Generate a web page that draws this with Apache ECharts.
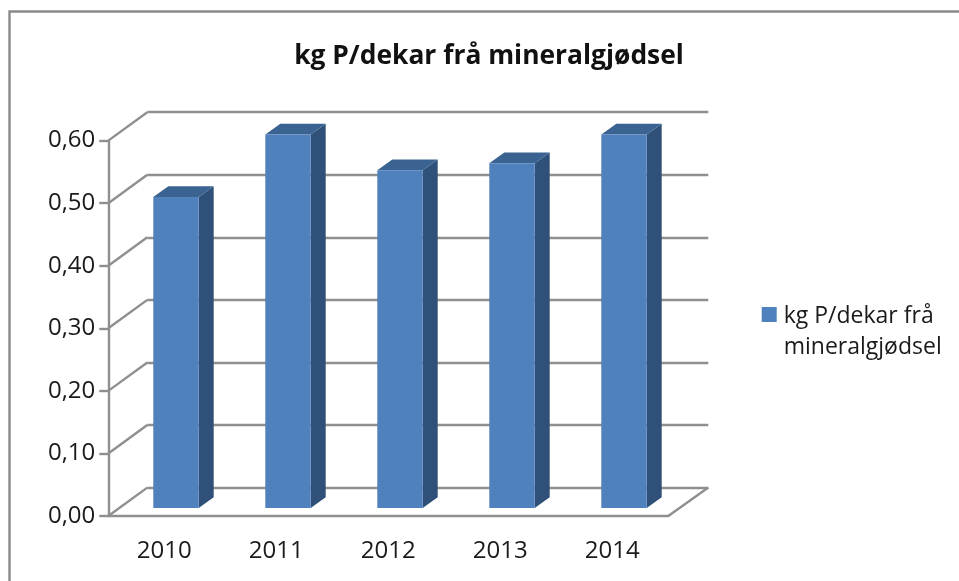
<!DOCTYPE html>
<html>
<head>
<meta charset="utf-8">
<script src="https://cdn.jsdelivr.net/npm/echarts@6/dist/echarts.min.js"></script>
<style>
html,body{margin:0;padding:0;background:#fff;}
#main{width:959px;height:581px;}
</style>
</head>
<body>
<div id="main"></div>
<script>
var years = ['2010', '2011', '2012', '2013', '2014'];
var values = [0.497, 0.597, 0.54, 0.551, 0.597];
var yTicks = [0, 0.1, 0.2, 0.3, 0.4, 0.5, 0.6];
var seriesName = 'kg P/dekar frå mineralgjødsel';

// wall depth of the fake 3d box, and the bar inside it
var wallDx = 39, wallDy = 28.4;
var barShift = 11.7, barLift = 8, barW = 45.4, barDx = 15, barDy = 10.7;
var lineColor = '#8f8f8f';
var lineWidth = 2.4;
var font = '"Open Sans"';

var myEcharts = echarts.init(document.getElementById('main'), null, {renderer: 'canvas'});

function tickLabel(v) {
    return v.toFixed(2).replace('.', ',');
}

// left wall and floor diagonals
function renderWall(params, api) {
    var p = api.coord([0, api.value(1)]);
    var left = params.coordSys.x;
    var right = left + params.coordSys.width;
    var lines = [{
        type: 'line',
        shape: {x1: left, y1: p[1], x2: left + wallDx, y2: p[1] - wallDy},
        style: {stroke: lineColor, lineWidth: lineWidth}
    }];
    if (api.value(1) === 0) {
        lines.push({
            type: 'line',
            shape: {x1: right, y1: p[1], x2: right + wallDx + 1, y2: p[1] - wallDy},
            style: {stroke: lineColor, lineWidth: lineWidth}
        });
    }
    return {type: 'group', children: lines};
}

function renderBar(params, api) {
    var top = api.coord([api.value(0), api.value(1)]);
    var base = api.coord([api.value(0), 0]);
    var x0 = top[0] + barShift - barW / 2;
    var x1 = x0 + barW;
    var y0 = top[1] - barLift;
    var y1 = base[1] - barLift;
    return {
        type: 'group',
        children: [{
            type: 'polygon',
            shape: {points: [[x1, y0], [x1 + barDx, y0 - barDy], [x1 + barDx, y1 - barDy], [x1, y1]]},
            style: {fill: '#2f5179'}
        }, {
            type: 'polygon',
            shape: {points: [[x0, y0], [x0 + barDx, y0 - barDy], [x1 + barDx, y0 - barDy], [x1, y0]]},
            style: {fill: '#3b6392'}
        }, {
            type: 'rect',
            shape: {x: x0, y: y0, width: barW, height: y1 - y0},
            style: {fill: '#4f81bd'}
        }]
    };
}

var option = {
    animation: false,
    backgroundColor: '#fff',
    title: {
        text: seriesName,
        left: 484,
        top: 38,
        textAlign: 'center',
        textStyle: {fontFamily: font, fontSize: 26.4, fontWeight: 'bold', color: '#111'}
    },
    legend: {
        left: 761.7,
        top: 301,
        padding: 0,
        orient: 'vertical',
        // square sits beside the first text line, the stray dots stretch the icon box to two lines
        icon: 'path://M0 0H0.01V0.01H0Z M0 6H15V21H0Z M0 62H0.01V62.01H0Z',
        itemWidth: 15,
        itemHeight: 62,
        itemGap: 0,
        formatter: function () { return 'kg P/dekar frå\nmineralgjødsel'; },
        textStyle: {fontFamily: font, fontSize: 23, lineHeight: 31, color: '#1a1a1a', padding: [0, 0, 0, 2]}
    },
    grid: [
        {left: 108.3, top: 140.6, width: 560, height: 375.4},
        {left: 147.3, top: 112.2, width: 561, height: 375.4}
    ],
    xAxis: [{
        type: 'category',
        data: years,
        gridIndex: 0,
        axisLine: {lineStyle: {color: lineColor, width: lineWidth}},
        axisTick: {length: 9, lineStyle: {color: lineColor, width: lineWidth}},
        axisLabel: {margin: 23, fontFamily: font, fontSize: 24, color: '#1a1a1a'}
    }, {
        type: 'category',
        data: years,
        gridIndex: 1,
        show: false
    }],
    yAxis: [{
        type: 'value',
        gridIndex: 0,
        min: 0,
        max: 0.6,
        interval: 0.1,
        axisLine: {show: true, lineStyle: {color: lineColor, width: lineWidth}},
        axisTick: {show: true, length: 9, lineStyle: {color: lineColor, width: lineWidth}},
        splitLine: {show: false},
        axisLabel: {margin: 13, fontFamily: font, fontSize: 24, color: '#1a1a1a', formatter: tickLabel}
    }, {
        type: 'value',
        gridIndex: 1,
        min: 0,
        max: 0.6,
        interval: 0.1,
        axisLine: {show: false},
        axisTick: {show: false},
        axisLabel: {show: false},
        splitLine: {show: true, lineStyle: {color: lineColor, width: lineWidth}}
    }],
    series: [{
        name: 'wall',
        type: 'custom',
        xAxisIndex: 0,
        yAxisIndex: 0,
        silent: true,
        z: 1,
        renderItem: renderWall,
        data: yTicks.map(function (t) { return [0, t]; })
    }, {
        name: seriesName,
        type: 'custom',
        xAxisIndex: 0,
        yAxisIndex: 0,
        z: 5,
        itemStyle: {color: '#4f81bd'},
        renderItem: renderBar,
        encode: {x: 0, y: 1},
        data: years.map(function (y, i) { return [i, values[i]]; })
    }],
    graphic: [{
        type: 'polyline',
        z: 0,
        shape: {points: [[9.5, 581], [9.5, 11.5], [959, 11.5]]},
        style: {fill: 'none', stroke: '#8a8a8a', lineWidth: 2.4}
    }]
};
option.legend.data = [seriesName];
myEcharts.setOption(option);
</script>
</body>
</html>
